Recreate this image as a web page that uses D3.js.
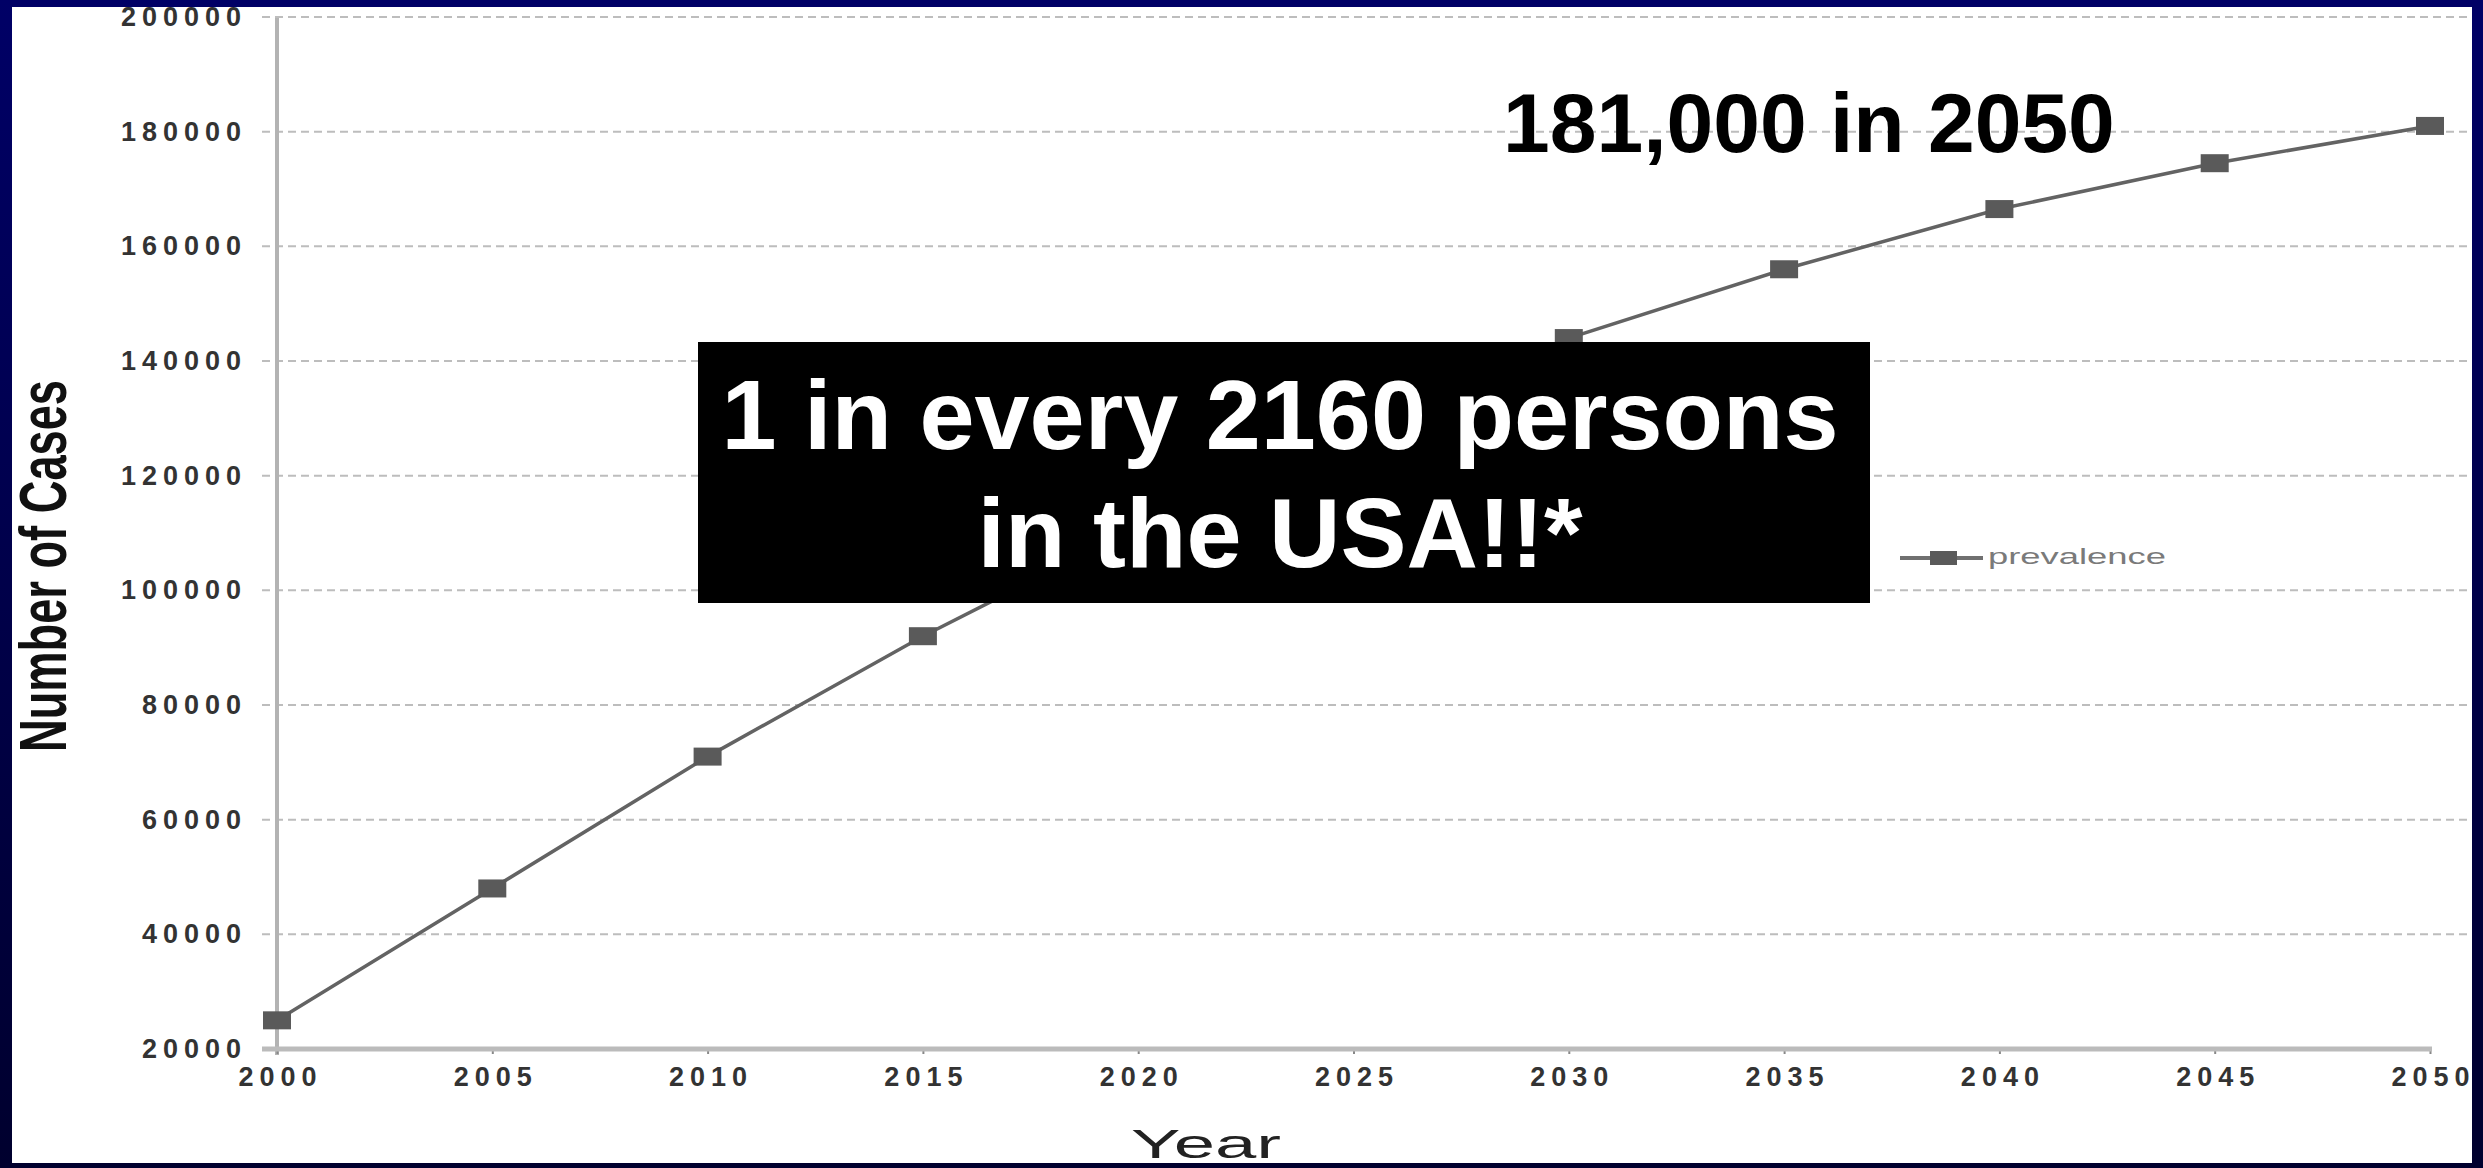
<!DOCTYPE html>
<html>
<head>
<meta charset="utf-8">
<script src="https://cdn.jsdelivr.net/npm/d3@7"></script>
<style>
  html, body { margin: 0; padding: 0; background: #000066; }
  svg { display: block; }
  text { font-family: "Liberation Sans", Arial, sans-serif; }
</style>
</head>
<body>
<svg id="chart" width="2483" height="1168"></svg>
<script>
// ---- data ----
const years = [2000, 2005, 2010, 2015, 2020, 2025, 2030, 2035, 2040, 2045, 2050];
const prevalence = [25000, 48000, 71000, 92000, 111000, 128500, 144000, 156000, 166500, 174500, 181000];
const yTickValues = [20000, 40000, 60000, 80000, 100000, 120000, 140000, 160000, 180000, 200000];
const xTickValues = [2000, 2005, 2010, 2015, 2020, 2025, 2030, 2035, 2040, 2045, 2050];
const seriesName = "prevalence";
const yTitle = "Number of Cases";
const xTitle = "Year";
const calloutTop = "181,000 in 2050";
const boxLines = ["1 in every 2160 persons", "in the USA!!*"];

const W = 2483, H = 1168;
const svg = d3.select("#chart");

// frame background gradient
const defs = svg.append("defs");
const grad = defs.append("linearGradient").attr("id", "frameGrad")
  .attr("x1", 0).attr("y1", 0).attr("x2", 0).attr("y2", 1);
grad.append("stop").attr("offset", "0%").attr("stop-color", "#000066");
grad.append("stop").attr("offset", "100%").attr("stop-color", "#00002e");
defs.append("clipPath").attr("id", "inner")
  .append("rect").attr("x", 12).attr("y", 7).attr("width", 2460).attr("height", 1156);

svg.append("rect").attr("width", W).attr("height", H).attr("fill", "url(#frameGrad)");
svg.append("rect").attr("x", 12).attr("y", 7).attr("width", 2460).attr("height", 1156).attr("fill", "#ffffff");

const g = svg.append("g").attr("clip-path", "url(#inner)");

// scales
const x = d3.scaleLinear().domain([2000, 2050]).range([277, 2430]);
const y = d3.scaleLinear().domain([20000, 200000]).range([1049, 17]);

// gridlines
g.append("g").selectAll("line").data(yTickValues.filter(d => d > 20000)).join("line")
  .attr("x1", 262).attr("x2", 2472)
  .attr("y1", d => y(d)).attr("y2", d => y(d))
  .attr("stroke", "#bdbdbd").attr("stroke-width", 2).attr("stroke-dasharray", "8,5");

// y axis
const yAxis = g.append("g").attr("transform", `translate(${x(2000)},0)`)
  .call(d3.axisLeft(y).tickValues(yTickValues).tickFormat(d3.format("d")).tickSize(0).tickPadding(30));
yAxis.select(".domain").remove();
yAxis.selectAll("text")
  .attr("font-size", 27).attr("font-weight", "bold").attr("fill", "#333")
  .attr("letter-spacing", 6).attr("font-family", "'Liberation Sans', Arial, sans-serif");
g.append("line").attr("x1", x(2000)).attr("x2", x(2000)).attr("y1", 18).attr("y2", 1055)
  .attr("stroke", "#b3b3b3").attr("stroke-width", 4);

// x axis
const xAxis = g.append("g").attr("transform", `translate(0,${y(20000)})`)
  .call(d3.axisBottom(x).tickValues(xTickValues).tickFormat(d3.format("d")).tickSize(5).tickPadding(13));
xAxis.select(".domain").remove();
xAxis.selectAll(".tick line").attr("stroke", "#888").attr("stroke-width", 2);
xAxis.selectAll("text")
  .attr("font-size", 27).attr("font-weight", "bold").attr("fill", "#333")
  .attr("letter-spacing", 6).attr("dx", 3).attr("font-family", "'Liberation Sans', Arial, sans-serif");
g.append("line").attr("x1", 262).attr("x2", x(2050) + 2).attr("y1", y(20000)).attr("y2", y(20000))
  .attr("stroke", "#bbbbbb").attr("stroke-width", 5);

// series line
const pts = years.map((yr, i) => [yr, prevalence[i]]);
g.append("path").datum(pts)
  .attr("fill", "none").attr("stroke", "#636363").attr("stroke-width", 3.5)
  .attr("d", d3.line().x(d => x(d[0])).y(d => y(d[1])));
g.append("g").selectAll("rect").data(pts).join("rect")
  .attr("x", d => x(d[0]) - 14).attr("y", d => y(d[1]) - 9)
  .attr("width", 28).attr("height", 18).attr("fill", "#5a5a5a");

// legend
const lg = g.append("g");
lg.append("line").attr("x1", 1900).attr("x2", 1983).attr("y1", 558).attr("y2", 558)
  .attr("stroke", "#707070").attr("stroke-width", 4);
lg.append("rect").attr("x", 1930).attr("y", 551).attr("width", 27).attr("height", 14).attr("fill", "#5a5a5a");
lg.append("text").attr("x", 1988).attr("y", 564).text(seriesName)
  .attr("font-size", 22).attr("fill", "#7a7a7a")
  .attr("textLength", 178).attr("lengthAdjust", "spacingAndGlyphs");

// callout top
g.append("text").attr("x", 1503).attr("y", 152).text(calloutTop)
  .attr("font-size", 84).attr("font-weight", "bold").attr("fill", "#000");

// black box
g.append("rect").attr("x", 698).attr("y", 342).attr("width", 1172).attr("height", 261).attr("fill", "#000");
g.selectAll("text.box").data(boxLines).join("text").attr("class", "box")
  .attr("x", 1280).attr("y", (d, i) => 449 + i * 118)
  .attr("text-anchor", "middle").attr("font-size", 99).attr("font-weight", "bold")
  .attr("fill", "#fff").text(d => d);

// axis titles
g.append("text").attr("transform", "translate(66,566) rotate(-90)")
  .attr("text-anchor", "middle").attr("font-size", 66).attr("font-weight", "bold")
  .attr("fill", "#111").attr("textLength", 372).attr("lengthAdjust", "spacingAndGlyphs")
  .text(yTitle);
g.append("text").attr("x", 1206).attr("y", 1158).attr("text-anchor", "middle")
  .attr("font-size", 40).attr("fill", "#222")
  .attr("textLength", 150).attr("lengthAdjust", "spacingAndGlyphs")
  .text(xTitle);
</script>
</body>
</html>
